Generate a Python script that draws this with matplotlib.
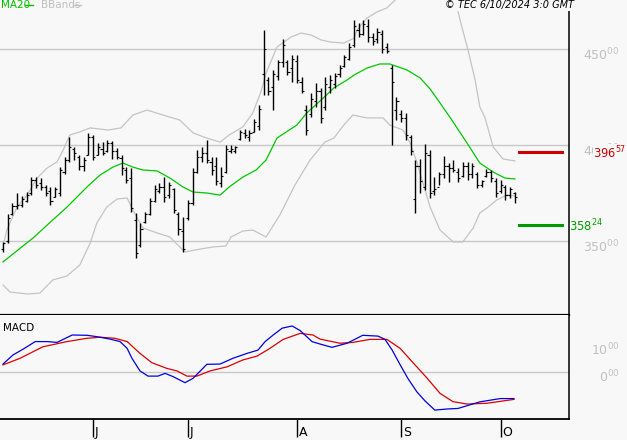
import numpy as np
import pandas as pd
import matplotlib
matplotlib.use('Agg')
import matplotlib.pyplot as plt
from matplotlib.lines import Line2D

# ---------------- data ----------------
dates = pd.bdate_range('2024-05-07', '2024-10-04')

highs = [349.5, 364.1, 369.8, 375.0, 373.4, 375.5, 383.3, 383.3, 382.8, 379.2,
         378.1, 378.1, 388.5, 393.7, 404.2, 399.0, 394.8, 393.7, 406.3, 405.2,
         401.0, 401.5, 402.6, 402.1, 398.4, 394.8, 388.5, 388.0, 364.6, 359.4,
         365.1, 372.4, 379.2, 380.2, 383.3, 380.7, 377.6, 365.1, 362.5, 371.4,
         388.0, 397.4, 399.0, 402.6, 393.7, 393.7, 388.5, 400.0, 400.0, 399.5,
         407.8, 408.3, 407.8, 413.5, 420.8, 459.9, 435.4, 439.0, 444.3, 455.2,
         444.3, 446.9, 446.9, 435.4, 420.8, 427.1, 432.3, 429.7, 435.4, 436.5,
         437.5, 441.7, 446.9, 453.1, 465.1, 463.5, 465.1, 465.6, 458.3, 461.0,
         459.9, 453.1, 441.7, 425.0, 418.2, 416.7, 405.2, 392.2, 392.7, 400.5,
         397.4, 383.3, 385.9, 394.3, 390.6, 392.2, 388.0, 391.2, 391.2, 390.6,
         385.9, 381.8, 387.5, 387.0, 382.8, 381.8, 379.2, 378.1, 375.5]
lows = [344.3, 349.0, 363.5, 366.7, 367.7, 370.3, 373.9, 377.6, 376.6, 373.4,
        368.8, 372.9, 373.4, 384.9, 391.2, 392.2, 387.0, 386.5, 394.8, 392.2,
        394.8, 394.8, 396.4, 392.7, 392.7, 384.4, 380.2, 365.1, 341.1, 346.9,
        359.4, 363.5, 370.3, 375.0, 370.3, 372.4, 364.6, 353.1, 344.3, 360.9,
        368.8, 385.4, 391.2, 390.6, 384.4, 379.2, 378.1, 385.4, 395.8, 395.8,
        402.6, 403.6, 402.1, 406.8, 407.8, 426.0, 426.0, 418.2, 433.9, 440.6,
        436.5, 432.8, 432.3, 427.1, 405.2, 414.6, 419.8, 411.5, 418.2, 427.1,
        429.7, 435.4, 440.6, 444.3, 451.0, 456.3, 457.3, 453.6, 452.1, 453.1,
        447.9, 447.9, 400.0, 413.0, 412.0, 402.6, 394.8, 364.6, 375.0, 376.6,
        372.4, 373.9, 379.2, 382.8, 380.7, 385.9, 380.7, 383.3, 381.8, 382.8,
        377.6, 378.1, 383.3, 380.7, 372.9, 375.0, 371.4, 372.4, 369.8]
opens = [346, 350, 364, 368, 369, 371, 375, 382, 380, 378,
         376, 373, 375, 386, 392, 398, 394, 389, 395, 404,
         395, 398, 397, 401, 397, 393, 387, 383, 361, 348,
         360, 364, 371, 376, 378, 374, 377, 364, 355, 362,
         370, 386, 394, 396, 391, 389, 380, 386, 397, 397,
         403, 406, 404, 407, 410, 437, 434, 430, 436, 443,
         443, 440, 444, 433, 418, 416, 423, 428, 420, 430,
         432, 437, 441, 445, 452, 460, 458, 462, 456, 455,
         458, 451, 440, 418, 416, 414, 404, 372, 389, 378,
         395, 376, 378, 385, 389, 388, 386, 384, 389, 385,
         385, 379, 384, 386, 381, 376, 378, 374, 375]
closes = [349, 362, 368, 369, 372, 374, 382, 379, 378, 375,
          371, 377, 387, 392, 399, 396, 389, 392, 404, 394,
          399, 396, 401, 397, 394, 388, 382, 367, 344, 356,
          364, 371, 377, 378, 373, 379, 366, 356, 346, 370,
          386, 394, 396, 392, 387, 381, 384, 398, 398, 399,
          407, 405, 406, 412, 419, 450, 428, 437, 443, 452,
          438, 445, 434, 428, 408, 424, 428, 414, 432, 434,
          436, 440, 446, 451, 462, 458, 463, 456, 454, 459,
          450, 449, 433, 423, 414, 405, 397, 389, 381, 396,
          375, 377, 385, 389, 388, 387, 383, 389, 385, 389,
          379, 381, 386, 383, 375, 379, 374, 377, 373]

# MA20 (bar index, value)
ma_idx = [0, 6.3, 13.5, 17.7, 20.5, 23.2, 25.3, 27.4, 29.5, 32.5, 35.2, 38.0, 40.1, 43.0,
          45.8, 47.7, 50.6, 53.4, 55.5, 57.8, 62.0, 64.1, 67.1, 69.8, 72.6, 74.1, 76.8,
          79.5, 81.6, 85.2, 88.0, 90.1, 92.2, 94.7, 97.9, 100.6, 103.4, 105.9, 108.0]
ma_val = [339.1, 351.5, 367.7, 378.1, 384.4, 388.5, 390.6, 388.5, 387.0, 386.5, 382.8, 378.1,
          375.5, 375.0, 373.9, 378.1, 383.3, 387.0, 392.2, 403.6, 410.4, 416.7, 423.4, 429.7,
          433.9, 436.5, 440.1, 442.2, 442.2, 439.1, 434.9, 429.2, 421.9, 413.0, 401.0, 390.6,
          385.9, 382.8, 382.3]

# Bollinger upper band
bbu_idx = [0, 0.8, 2.95, 5.1, 7.2, 9.3, 11.4, 12.7, 14.1, 16.2, 18.4, 22.2, 24.9, 27.4, 30.4,
           33.1, 37.3, 40.1, 43.0, 45.8, 47.7, 50.6, 52.7, 54.4, 55.5, 57.8, 60.8, 62.9, 65.0,
           67.1, 69.2, 71.9, 74.1, 74.7, 76.8, 78.9, 81.0, 83.8, 88.0, 92.2, 94.7, 95.8, 96.8,
           98.1, 99.6, 100.6, 101.7, 103.4, 105.5, 108.0]
bbu_val = [346.9, 355.7, 367.7, 374.0, 382.8, 388.0, 391.2, 397.4, 405.2, 406.8, 408.9, 407.8,
           408.9, 415.6, 418.2, 416.1, 413.0, 406.3, 403.6, 401.5, 405.2, 409.4, 416.7, 427.6,
           437.5, 451.0, 456.3, 458.3, 457.3, 454.7, 453.6, 453.1, 455.7, 460.0, 466.1, 469.3,
           471.4, 478.0, 481.0, 479.0, 474.0, 471.4, 461.5, 449.5, 433.9, 419.8, 414.1, 399.0,
           392.7, 391.7]

# Bollinger lower band
bbl_idx = [0, 1.5, 5.1, 7.8, 10.5, 13.5, 16.2, 18.4, 19.8, 21.9, 24.1, 26.2, 27.4, 29.5, 32.5,
           35.2, 37.3, 38.4, 41.6, 44.3, 47.0, 48.1, 50.6, 52.7, 55.5, 58.4, 61.6, 64.8, 67.9,
           69.8, 71.9, 73.8, 76.8, 80.2, 81.6, 84.4, 85.9, 87.3, 88.6, 90.1, 92.2, 95.0, 97.0,
           99.2, 100.6, 102.1, 104.2, 106.3, 108.0]
bbl_val = [327.1, 323.4, 322.4, 322.9, 329.7, 331.8, 337.5, 349.0, 359.4, 367.7, 371.9, 372.4,
           366.1, 356.8, 354.2, 352.1, 346.9, 344.3, 345.8, 346.9, 347.4, 352.1, 355.2, 355.7,
           352.1, 363.5, 379.2, 392.2, 401.5, 403.6, 410.4, 415.6, 414.1, 414.1, 410.4, 407.8,
           401.0, 391.2, 380.2, 367.7, 355.7, 349.5, 349.5, 356.8, 364.6, 367.2, 371.4, 374.0,
           373.4]

# MACD line and signal
macd_idx = [0, 2.1, 4.2, 6.8, 9.3, 11.4, 14.6, 17.7, 19.8, 22.6, 24.7, 26.2, 27.2, 28.9, 30.6,
            32.7, 34.2, 35.9, 38.4, 40.1, 43.0, 45.8, 48.5, 51.5, 53.8, 55.3, 57.0, 58.9, 61.0,
            62.7, 65.2, 66.9, 69.4, 72.6, 75.9, 79.1, 80.6, 82.1, 83.8, 85.4, 87.3, 89.0, 91.1,
            93.7, 96.0, 97.9, 100.6, 104.9, 107.8]
macd_val = [2.9, 6.2, 8.3, 11.1, 11.1, 10.8, 13.5, 13.4, 12.9, 12.0, 11.1, 8.6, 5.0, 0.4, -1.5,
            -1.5, -0.5, -1.7, -3.9, -2.3, 2.8, 2.9, 5.0, 6.8, 8.0, 11.1, 13.5, 16.0, 16.8,
            15.1, 11.1, 10.2, 9.0, 10.5, 13.4, 13.1, 11.9, 8.0, 2.6, -2.3, -7.2, -10.5, -13.9,
            -13.5, -13.3, -12.3, -10.9, -9.7, -9.7]
sig_idx = [0, 3.6, 8.4, 13.5, 17.7, 20.5, 23.6, 26.2, 28.9, 31.4, 34.6, 36.7, 38.8, 40.9, 43.7,
           47.3, 50.6, 53.6, 56.3, 59.1, 62.7, 65.4, 66.9, 71.1, 73.8, 77.4, 81.0, 83.8, 86.5,
           89.5, 92.2, 94.9, 97.9, 102.1, 107.8]
sig_val = [2.6, 5.0, 9.2, 11.1, 12.3, 12.7, 12.3, 11.1, 6.8, 3.4, 1.3, 0.4, -1.5, -1.5, 0.4,
           1.9, 4.4, 5.8, 8.6, 11.9, 14.1, 13.5, 12.0, 10.5, 10.8, 11.9, 11.9, 8.6, 3.4,
           -2.3, -7.8, -10.8, -11.7, -11.4, -10.0]

resistance = 396.57
support = 358.24
price_ticks = [350, 400, 450]
macd_ticks = [0, 10]
month_letters = ['J', 'J', 'A', 'S', 'O']
copyright_text = '\u00a9 TEC 6/10/2024 3:0 GMT'

# ---------------- figure ----------------
W, H = 627, 440
bg = '#f8f8f8'
grid_c = '#c8c8c8'
fig = plt.figure(figsize=(W / 100, H / 100), dpi=100, facecolor=bg)
ax = fig.add_axes([0, 1 - 315 / H, 569 / W, 315 / H], facecolor=bg)
ax2 = fig.add_axes([0, 1 - 419 / H, 569 / W, 104 / H], facecolor=bg)

n = len(closes)
x = np.arange(n)
xl = (-3 / 4.74, (569 - 3) / 4.74)

# price panel
for v in price_ticks:
    ax.axhline(v, color=grid_c, lw=1.0, zorder=1)
ax.plot(bbu_idx, bbu_val, color='#c4c4c4', lw=0.9, zorder=2)
ax.plot(bbl_idx, bbl_val, color='#c4c4c4', lw=0.9, zorder=2)
ax.plot(ma_idx, ma_val, color='#00c800', lw=0.9, zorder=3)
ax.vlines(x, lows, highs, color='black', lw=1.0, zorder=4)
ax.hlines(opens, x - 0.45, x, color='black', lw=0.8, zorder=4)
ax.hlines(closes, x, x + 0.45, color='black', lw=0.8, zorder=4)

ax.axhline(resistance, xmin=519 / 569, xmax=562 / 569, color='#cc0000', lw=2.2, zorder=5)
ax.axhline(support, xmin=519 / 569, xmax=562 / 569, color='#009900', lw=2.2, zorder=5)

ax.set_xlim(*xl)
ax.set_ylim(475.52 - 315 / 1.92, 475.52)
ax.set_xticks([])
ax.set_yticks([])
for s in ['top', 'left']:
    ax.spines[s].set_visible(False)
ax.spines['right'].set_linewidth(1.1)
ax.spines['bottom'].set_linewidth(1.6)

for v in price_ticks:
    ax.annotate(f'{v}$^{{00}}$', xy=(1, v), xycoords=('axes fraction', 'data'),
                xytext=(51, -6), textcoords='offset pixels', ha='right', va='center',
                color='#c0c0c0', fontsize=9, annotation_clip=False)
ax.annotate(f'{int(resistance)}$^{{{round((resistance % 1) * 100):02d}}}$', xy=(1, resistance),
            xycoords=('axes fraction', 'data'), xytext=(24, -1), textcoords='offset pixels',
            ha='left', va='center', color='#cc0000', fontsize=8.3, annotation_clip=False,
            zorder=10, bbox=dict(facecolor=bg, edgecolor='none', pad=0.3))
ax.annotate(f'{int(support)}$^{{{round((support % 1) * 100):02d}}}$', xy=(1, support),
            xycoords=('axes fraction', 'data'), xytext=(0, -1), textcoords='offset pixels',
            ha='left', va='center', color='#009900', fontsize=8.3, annotation_clip=False,
            zorder=10)

# MACD panel
ax2.axhline(0, color=grid_c, lw=1.0, zorder=1)
ax2.plot(sig_idx, sig_val, color='#dd0000', lw=0.9, zorder=3)
ax2.plot(macd_idx, macd_val, color='#0000dd', lw=0.9, zorder=4)
ax2.set_xlim(*xl)
ax2.set_ylim((372 - 419) / 2.74, (372 - 315) / 2.74)
ax2.set_yticks([])
for s in ['top', 'left']:
    ax2.spines[s].set_visible(False)
ax2.spines['right'].set_linewidth(1.1)
ax2.spines['bottom'].set_linewidth(1.3)

month_pos = [i for i in range(1, n) if dates[i].month != dates[i - 1].month]
ax2.set_xticks(month_pos)
ax2.tick_params(axis='x', length=13, width=1.0, direction='out', color='black',
                labelbottom=False)
for p, lab in zip(month_pos, month_letters):
    ax2.annotate(lab, xy=(p, 0), xycoords=('data', 'axes fraction'), xytext=(2, -13),
                 textcoords='offset pixels', ha='left', va='center', fontsize=9,
                 color='black', annotation_clip=False)
for v in macd_ticks:
    ax2.annotate(f'{v}$^{{00}}$', xy=(1, v), xycoords=('axes fraction', 'data'),
                 xytext=(51, -5), textcoords='offset pixels', ha='right', va='center',
                 color='#c0c0c0', fontsize=9, annotation_clip=False)
ax2.text(3 / 569, 1 - 13 / 104, 'MACD', transform=ax2.transAxes, ha='left', va='center',
         fontsize=7.5, color='black')

# header texts
fig.text(1 / W, 1 - 5 / H, 'MA20', ha='left', va='center', fontsize=7.5, color='#00c000')
fig.add_artist(Line2D([25 / W, 33 / W], [1 - 5 / H, 1 - 5 / H], color='#00c000', lw=1.0,
                      transform=fig.transFigure))
fig.text(41 / W, 1 - 5 / H, 'BBands', ha='left', va='center', fontsize=7.5, color='#c0c0c0')
fig.add_artist(Line2D([73 / W, 81 / W], [1 - 5 / H, 1 - 5 / H], color='#c0c0c0', lw=1.0,
                      transform=fig.transFigure))
fig.text(574 / W, 1 - 5 / H, copyright_text, ha='right', va='center', fontsize=7,
         style='italic', color='black',
         bbox=dict(facecolor=bg, edgecolor='none', pad=0.5))

fig.savefig('out.png', dpi=100, facecolor=bg)
